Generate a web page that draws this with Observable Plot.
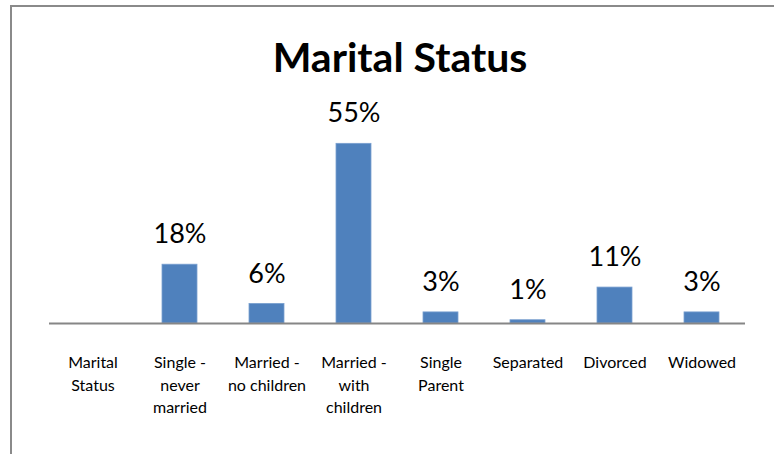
<!DOCTYPE html>
<html>
<head>
<meta charset="utf-8">
<script src="https://cdn.jsdelivr.net/npm/d3@7"></script>
<script src="https://cdn.jsdelivr.net/npm/@observablehq/plot@0.6"></script>
<style>
  html, body { margin: 0; padding: 0; background: #fff; }
  body { width: 774px; height: 454px; overflow: hidden; position: relative; font-family: Lato, "Open Sans", sans-serif; }
  #frame { position: absolute; left: 10px; top: 5px; width: 900px; height: 600px; border: 2px solid #8a8a8a; box-sizing: border-box; pointer-events: none; }
  #title { position: relative; width: 800px; height: 90px; box-sizing: border-box; padding-top: 36px; line-height: 1; text-align: center; font-size: 41px; font-weight: 700; color: #000; margin: 0; }
  #chart svg { display: block; }
</style>
</head>
<body>
<div id="frame"></div>
<div id="title">Marital Status</div>
<div id="chart"></div>
<script>
const categories = ["Marital Status", "Single - never married", "Married - no children", "Married - with children", "Single Parent", "Separated", "Divorced", "Widowed"];
const tickLabels = ["Marital\nStatus", "Single -\nnever\nmarried", "Married -\nno children", "Married -\nwith\nchildren", "Single\nParent", "Separated", "Divorced", "Widowed"];
const values = [null, 18, 6, 55, 3.4, 1, 11, 3.4];

const data = categories.map((c, i) => ({category: c, value: values[i], label: tickLabels[i]}));
const withValue = data.filter(d => d.value != null);

const chart = Plot.plot({
  width: 774,
  height: 364,
  marginLeft: 49,
  marginRight: 29,
  marginTop: 37,
  marginBottom: 131,
  style: {fontFamily: "Lato, 'Open Sans', sans-serif", color: "#000", background: "#fff"},
  x: {domain: categories, paddingInner: 0.6, paddingOuter: 0.3, label: null},
  y: {domain: [0, 60], axis: null},
  marks: [
    Plot.barY(withValue, {x: "category", y: "value", fill: "#4f81bd", stroke: "#7aa0d0", strokeWidth: 0.8}),
    Plot.ruleY([0], {stroke: "#868686", strokeWidth: 2}),
    Plot.text(withValue, {x: "category", y: "value", text: d => Math.round(d.value) + "%", dy: -30, fontSize: 27, fill: "#000"}),
    Plot.axisX({
      tickSize: 0,
      tickPadding: 29,
      tickFormat: (d) => tickLabels[categories.indexOf(d)],
      fontSize: 16,
      lineHeight: 1.4,
      fill: "#000",
      label: null
    })
  ]
});
document.getElementById("chart").appendChild(chart);
</script>
</body>
</html>
